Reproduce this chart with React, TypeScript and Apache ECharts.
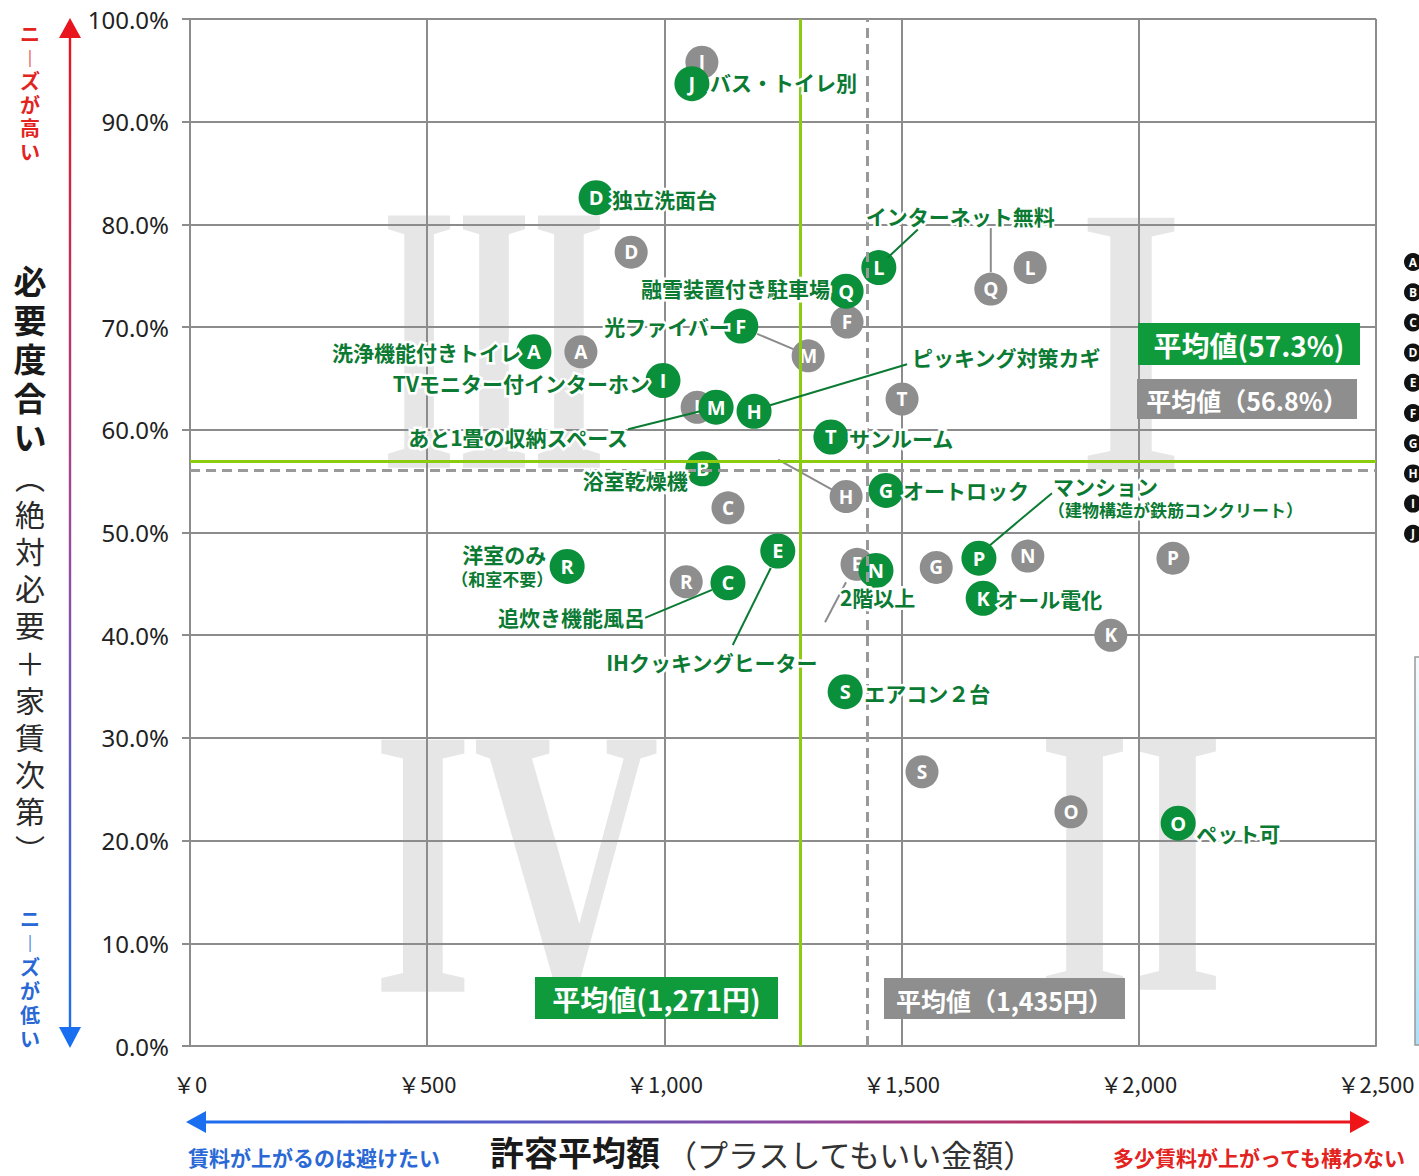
import React, { useEffect, useRef } from 'react';
import * as echarts from 'echarts';

// ---- data ----
const codes = ['A', 'B', 'C', 'D', 'E', 'F', 'G', 'H', 'I', 'J', 'K', 'L', 'M', 'N', 'O', 'P', 'Q', 'R', 'S', 'T'];
const itemNames: string[][] = [
  ['洗浄機能付きトイレ'],
  ['浴室乾燥機'],
  ['追炊き機能風呂'],
  ['独立洗面台'],
  ['IHクッキングヒーター'],
  ['光ファイバー'],
  ['オートロック'],
  ['ピッキング対策カギ'],
  ['TVモニター付インターホン'],
  ['バス・トイレ別'],
  ['オール電化'],
  ['インターネット無料'],
  ['あと1畳の収納スペース'],
  ['2階以上'],
  ['ペット可'],
  ['マンション', '（建物構造が鉄筋コンクリート）'],
  ['融雪装置付き駐車場'],
  ['洋室のみ', '（和室不要）'],
  ['エアコン２台'],
  ['サンルーム'],
];
// current survey (green)
const priceNow = [725, 1081, 1134, 856, 1239, 1161, 1467, 1189, 997, 1058, 1672, 1452, 1109, 1446, 2083, 1663, 1383, 795, 1381, 1351];
const needNow = [67.6, 56.2, 45.1, 82.6, 48.2, 70.1, 54.1, 61.8, 64.8, 93.7, 43.6, 75.8, 62.2, 46.3, 21.7, 47.5, 73.5, 46.7, 34.5, 59.3];
// previous survey (gray)
const pricePrev = [824, 1081, 1134, 930, 1406, 1385, 1573, 1383, 1069, 1079, 1941, 1771, 1303, 1766, 1857, 2072, 1688, 1046, 1543, 1501];
const needPrev = [67.6, 56.2, 52.4, 77.3, 46.9, 70.5, 46.6, 53.5, 62.2, 95.8, 40.0, 75.8, 67.2, 47.7, 22.8, 47.5, 73.7, 45.2, 26.7, 63.0];
// average lines (as drawn)
const avgPriceNow = 1286;
const avgPricePrev = 1427;
const avgNeedNow = 56.9;
const avgNeedPrev = 56.1;
const avgLabels = ['平均値(57.3%)', '平均値（56.8%）', '平均値(1,271円)', '平均値（1,435円）'];
const quadrantLabels = ['III', 'I', 'IV', 'II'];
const legendCodes = ['A', 'B', 'C', 'D', 'E', 'F', 'G', 'H', 'I', 'J'];

// ---- styles / layout ----
const GREEN = '#0a8f3a';
const GREEN_TXT = '#0b7a33';
const GRAY_PT = '#8e8e8e';
const GRID = '#8c8c8c';
const JP = '"Noto Sans CJK JP", "Noto Sans", sans-serif';

// label layout relative to point: lines [dx, dy, fontSize, align], leader [x1,y1,x2,y2]
const greenLayout: Record<string, { lines: [number, number, number, string][]; leader?: number[] }> = {
  A: { lines: [[-13, 0, 21, 'right']] },
  B: { lines: [[-15, 11, 21, 'right']] },
  C: { lines: [[-83, 34, 21, 'right']], leader: [-83, 35, -16, 7] },
  D: { lines: [[16, 1, 21, 'left']] },
  E: { lines: [[-66, 111, 21, 'center']], leader: [-45, 94, -7, 17] },
  F: { lines: [[-11, 0, 21, 'right']] },
  G: { lines: [[17, 0, 21, 'left']] },
  H: { lines: [[158, -54, 21, 'left']], leader: [16, -6, 153, -47] },
  I: { lines: [[-13, 2, 21, 'right']] },
  J: { lines: [[18, -2, 21, 'left']] },
  K: { lines: [[14, 1, 21, 'left']] },
  L: { lines: [[-13, -52, 21, 'left']], leader: [9, -10, 39, -38] },
  M: { lines: [[-88, 30, 21, 'right']], leader: [-88, 22, -16, 4] },
  N: { lines: [[-36, 27, 21, 'left']] },
  O: { lines: [[18, 10, 21, 'left']] },
  P: { lines: [[74, -72, 21, 'left'], [69, -49, 17, 'left']], leader: [11, -13, 73, -65] },
  Q: { lines: [[-16, -3, 21, 'right']] },
  R: { lines: [[-63, -12, 21, 'center'], [-65, 12, 17, 'center']] },
  S: { lines: [[19, 1, 21, 'left']] },
  T: { lines: [[18, 1, 21, 'left']] },
};
const grayLeaders: Record<string, number[]> = {
  E: [-11, 18, -32, 58],
  H: [-68, -37, -14, -7],
  M: [-51, -22, -13, -6],
  Q: [0, -17, 0, -61],
};

function buildOption() {
  const graphics: any[] = [];
  // roman numerals (background) [x, y, scaleX]
  const numeralPos: [number, number, number][] = [
    [494, 338, 0.5],
    [1131, 340, 0.7],
    [516, 862, 0.67],
    [1131, 860, 0.62],
  ];
  quadrantLabels.forEach((t, i) => {
    const [x, y, sx] = numeralPos[i];
    graphics.push({
      type: 'text', x, y, scaleX: sx, z: -10, silent: true,
      style: { text: t, fill: '#e6e6e6', font: `bold 385px "Liberation Serif", serif`, align: 'center', verticalAlign: 'middle' },
    });
  });

  // vertical gradient arrow
  graphics.push({
    type: 'rect', z: 50, shape: { x: 68.8, y: 36, width: 2.4, height: 994 },
    style: {
      fill: new echarts.graphic.LinearGradient(0, 0, 0, 1, [
        { offset: 0, color: '#e8141e' }, { offset: 0.5, color: '#9b4a9a' }, { offset: 1, color: '#1a6ef0' },
      ]),
    },
  });
  graphics.push({ type: 'polygon', z: 50, shape: { points: [[70, 18], [59, 38], [81, 38]] }, style: { fill: '#e8141e' } });
  graphics.push({ type: 'polygon', z: 50, shape: { points: [[70, 1048], [59, 1027], [81, 1027]] }, style: { fill: '#1a6ef0' } });
  // horizontal gradient arrow
  graphics.push({
    type: 'rect', z: 50, shape: { x: 200, y: 1120.5, width: 1156, height: 3 },
    style: {
      fill: new echarts.graphic.LinearGradient(0, 0, 1, 0, [
        { offset: 0, color: '#1a6ef0' }, { offset: 0.5, color: '#8a4aa0' }, { offset: 1, color: '#ee1418' },
      ]),
    },
  });
  graphics.push({ type: 'polygon', z: 50, shape: { points: [[186, 1122], [206, 1111], [206, 1133]] }, style: { fill: '#1a6ef0' } });
  graphics.push({ type: 'polygon', z: 50, shape: { points: [[1370, 1122], [1350, 1111], [1350, 1133]] }, style: { fill: '#ee1418' } });

  // y axis titles (vertical)
  graphics.push({
    type: 'text', x: 30, y: 260, z: 50,
    style: { text: '必\n要\n度\n合\nい', fill: '#1a1a1a', font: `bold 33px ${JP}`, lineHeight: 39, align: 'center', verticalAlign: 'top' },
  });
  graphics.push({
    type: 'text', x: 30, y: 457, z: 50,
    style: { text: '︵\n絶\n対\n必\n要\n＋\n家\n賃\n次\n第\n︶', fill: '#2a2a2a', font: `30px ${JP}`, lineHeight: 37.2, align: 'center', verticalAlign: 'top' },
  });
  graphics.push({
    type: 'text', x: 30, y: 22, z: 50,
    style: { text: 'ニ\n︱\nズ\nが\n高\nい', fill: '#e2231e', font: `bold 20px ${JP}`, lineHeight: 23.5, align: 'center', verticalAlign: 'top' },
  });
  graphics.push({
    type: 'text', x: 30, y: 906, z: 50,
    style: { text: 'ニ\n︱\nズ\nが\n低\nい', fill: '#2a68d6', font: `bold 20px ${JP}`, lineHeight: 24, align: 'center', verticalAlign: 'top' },
  });
  // bottom titles
  graphics.push({ type: 'text', x: 188, y: 1157, z: 50, style: { text: '賃料が上がるのは避けたい', fill: '#2a68d6', font: `bold 21px ${JP}`, align: 'left', verticalAlign: 'middle' } });
  graphics.push({ type: 'text', x: 490, y: 1151, z: 50, style: { text: '許容平均額', fill: '#1a1a1a', font: `bold 34px ${JP}`, align: 'left', verticalAlign: 'middle' } });
  graphics.push({ type: 'text', x: 666, y: 1153, z: 50, style: { text: '（プラスしてもいい金額）', fill: '#333', font: `31px ${JP}`, align: 'left', verticalAlign: 'middle' } });
  graphics.push({ type: 'text', x: 1405, y: 1157, z: 50, style: { text: '多少賃料が上がっても構わない', fill: '#e2231e', font: `bold 21px ${JP}`, align: 'right', verticalAlign: 'middle' } });

  // average boxes
  const boxes: [number, number, number, number, string, number, string][] = [
    [1138, 323, 222, 42, '#0f9a3c', 28, avgLabels[0]],
    [1137, 379, 220, 40, '#8e8e8e', 25, avgLabels[1]],
    [535, 977, 243, 42, '#0f9a3c', 28, avgLabels[2]],
    [884, 978, 241, 41, '#8e8e8e', 25, avgLabels[3]],
  ];
  boxes.forEach(([x, y, w, h, c, fs, t]) => {
    graphics.push({ type: 'rect', z: 40, shape: { x, y, width: w, height: h }, style: { fill: c } });
    graphics.push({ type: 'text', z: 41, x: x + w / 2, y: y + h / 2 + 1, style: { text: t, fill: '#fff', font: `bold ${fs}px ${JP}`, align: 'center', verticalAlign: 'middle' } });
  });

  // partial legend at right edge
  legendCodes.forEach((c, i) => {
    const y = 262 + i * 30.2;
    graphics.push({ type: 'circle', z: 40, shape: { cx: 1413, cy: y, r: 9 }, style: { fill: '#111' } });
    graphics.push({ type: 'text', z: 41, x: 1413, y, style: { text: c, fill: '#fff', font: `bold 12px "Open Sans", sans-serif`, align: 'center', verticalAlign: 'middle' } });
  });
  graphics.push({
    type: 'rect', z: 40, shape: { x: 1415, y: 657, width: 10, height: 388 },
    style: { fill: new echarts.graphic.LinearGradient(0, 0, 0, 1, [{ offset: 0, color: '#f4fbff' }, { offset: 1, color: '#aee0f8' }]), stroke: '#999', lineWidth: 1.5 },
  });

  const greenLabelsSeries = {
    type: 'custom', z: 6, silent: true,
    data: codes.map((c, i) => [priceNow[i], needNow[i], i]),
    renderItem: (params: any, api: any) => {
      const i = api.value(2);
      const p = api.coord([api.value(0), api.value(1)]);
      const lay = greenLayout[codes[i]];
      const children: any[] = [];
      if (lay.leader) {
        const l = lay.leader;
        children.push({ type: 'line', shape: { x1: p[0] + l[0], y1: p[1] + l[1], x2: p[0] + l[2], y2: p[1] + l[3] }, style: { stroke: GREEN_TXT, lineWidth: 2 }, z2: 0 });
      }
      itemNames[i].forEach((t, k) => {
        const ln = lay.lines[k];
        children.push({
          type: 'text', x: p[0] + ln[0], y: p[1] + ln[1], z2: 2,
          style: { text: t, fill: GREEN_TXT, stroke: '#fff', lineWidth: 5, font: `bold ${ln[2]}px ${JP}`, align: ln[3], verticalAlign: 'middle' },
        });
      });
      return { type: 'group', children };
    },
  };

  const grayLeadersSeries = {
    type: 'custom', z: 2, silent: true,
    data: codes.map((c, i) => [pricePrev[i], needPrev[i], i]).filter((d) => grayLeaders[codes[d[2]]]),
    renderItem: (params: any, api: any) => {
      const i = api.value(2);
      const p = api.coord([api.value(0), api.value(1)]);
      const l = grayLeaders[codes[i]];
      return { type: 'line', shape: { x1: p[0] + l[0], y1: p[1] + l[1], x2: p[0] + l[2], y2: p[1] + l[3] }, style: { stroke: GRID, lineWidth: 2 } };
    },
  };

  return {
    animation: false,
    backgroundColor: '#fff',
    grid: { left: 190, top: 19, right: 43, bottom: 130, containLabel: false },
    xAxis: {
      type: 'value', min: 0, max: 2500, interval: 500,
      axisLine: { show: true, lineStyle: { color: GRID, width: 2 } },
      axisTick: { show: false },
      splitLine: { show: true, lineStyle: { color: GRID, width: 2 } },
      axisLabel: {
        margin: 26, color: '#222', fontSize: 22, fontFamily: JP,
        formatter: (v: number) => '￥' + v.toLocaleString('en-US'),
      },
    },
    yAxis: {
      type: 'value', min: 0, max: 100, interval: 10,
      axisLine: { show: true, lineStyle: { color: GRID, width: 2 } },
      axisTick: { show: true, length: 8, lineStyle: { color: GRID, width: 2 } },
      splitLine: { show: true, lineStyle: { color: GRID, width: 2 } },
      axisLabel: {
        margin: 21, color: '#222', fontSize: 24, fontFamily: '"Noto Sans", sans-serif',
        formatter: (v: number) => v.toFixed(1) + '%',
      },
    },
    graphic: { elements: graphics },
    series: [
      {
        type: 'scatter', z: 1, data: [], silent: true,
        markLine: {
          silent: true, symbol: 'none', label: { show: false },
          data: [
            { xAxis: avgPricePrev, lineStyle: { color: '#999', width: 3, type: [10, 6] } },
            { yAxis: avgNeedPrev, lineStyle: { color: '#999', width: 3, type: [10, 6] } },
            { xAxis: avgPriceNow, lineStyle: { color: '#8ccc10', width: 3, type: 'solid' } },
            { yAxis: avgNeedNow, lineStyle: { color: '#8ccc10', width: 3, type: 'solid' } },
          ],
        },
      },
      grayLeadersSeries,
      {
        type: 'scatter', z: 3, silent: true, symbolSize: 33,
        itemStyle: { color: GRAY_PT, opacity: 1 },
        data: codes.map((c, i) => ({ value: [pricePrev[i], needPrev[i]], name: c })),
        label: { show: true, position: 'inside', formatter: '{b}', color: '#fff', fontSize: 19, fontWeight: 'bold', fontFamily: '"Open Sans", sans-serif' },
      },
      {
        type: 'scatter', z: 4, silent: true, symbolSize: 35,
        itemStyle: { color: GREEN, opacity: 1 },
        data: codes.map((c, i) => ({ value: [priceNow[i], needNow[i]], name: c })),
        label: { show: true, position: 'inside', formatter: '{b}', color: '#fff', fontSize: 20, fontWeight: 'bold', fontFamily: '"Open Sans", sans-serif' },
      },
      greenLabelsSeries,
    ],
  };
}

export default function App() {
  const ref = useRef<HTMLDivElement>(null);
  useEffect(() => {
    document.body.style.margin = '0';
    const chart = echarts.init(ref.current!, undefined, { renderer: 'svg' });
    chart.setOption(buildOption() as any);
    return () => chart.dispose();
  }, []);
  return <div ref={ref} style={{ position: 'absolute', left: 0, top: 0, width: 1419, height: 1176 }} />;
}
